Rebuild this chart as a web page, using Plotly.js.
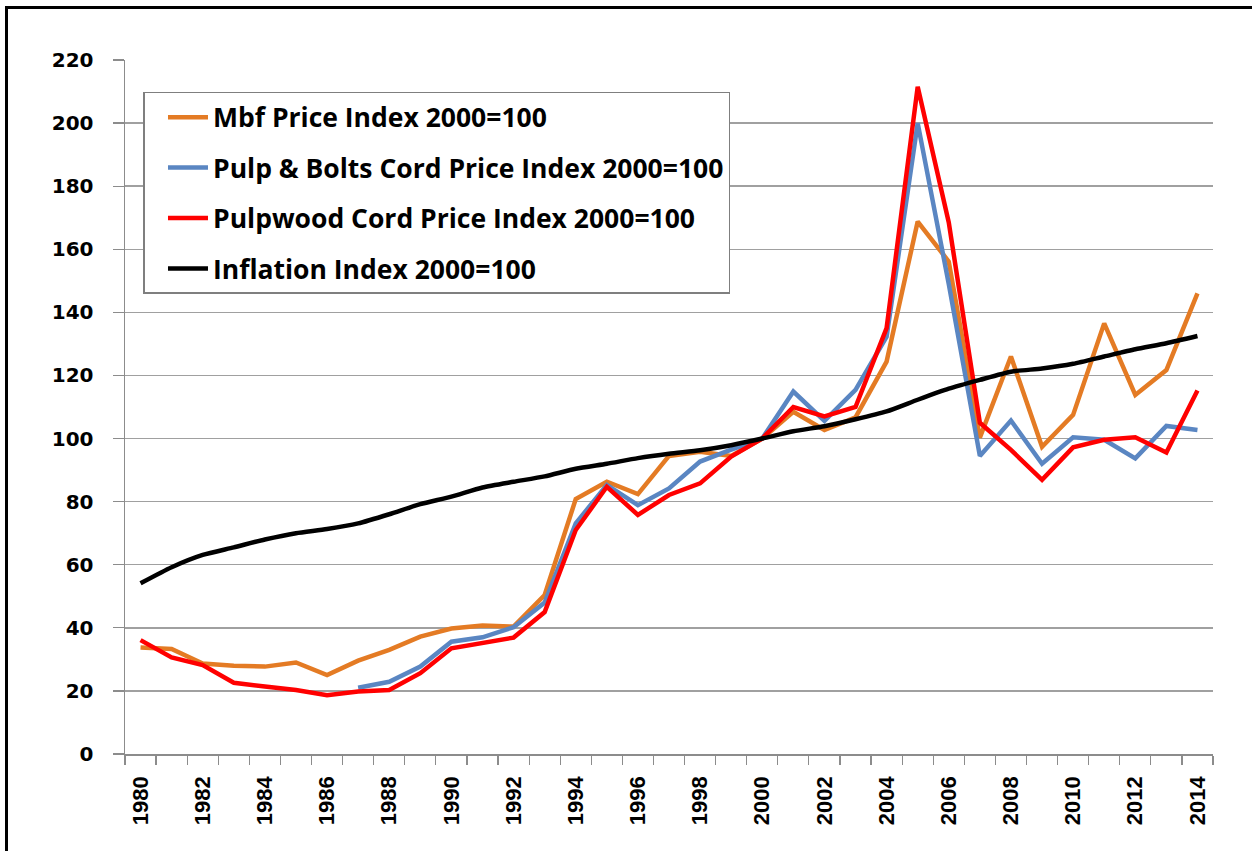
<!DOCTYPE html>
<html>
<head>
<meta charset="utf-8">
<script src="https://cdn.plot.ly/plotly-3.0.1.min.js"></script>
<style>
  html, body { margin: 0; padding: 0; background: #fff; }
  #wrap { position: relative; width: 1252px; height: 851px; overflow: hidden; }
  #chart { position: absolute; left: 0; top: 0; width: 1252px; height: 851px; }
  #frame { position: absolute; left: 5px; top: 6px; width: 1300px; height: 900px;
           border-top: 3px solid #000; border-left: 3px solid #000; pointer-events: none; }
</style>
</head>
<body>
<div id="wrap">
  <div id="chart"></div>
  <div id="frame"></div>
</div>
<script>
const years = [1980,1981,1982,1983,1984,1985,1986,1987,1988,1989,1990,1991,1992,1993,1994,1995,1996,1997,1998,1999,2000,2001,2002,2003,2004,2005,2006,2007,2008,2009,2010,2011,2012,2013,2014];

const mbfIndex = [33.8,33.3,28.7,28.0,27.7,29.0,25.0,29.6,33.0,37.2,39.8,40.7,40.4,50.4,80.8,86.3,82.4,94.5,95.8,94.5,100,108.5,102.7,106.7,124.4,168.8,156.1,100.3,126.0,97.4,107.5,136.5,113.8,121.7,146.0];

const pulpBoltsIndex = [null,null,null,null,null,null,null,21.0,22.9,27.7,35.6,37.0,40.2,48.0,73.1,85.3,78.9,84.2,92.7,96.5,100,114.9,105.6,115.4,132.3,200.0,149.0,94.5,105.7,92.0,100.4,99.6,93.7,104.0,102.7];

const pulpwoodIndex = [36.1,30.6,28.2,22.6,21.4,20.3,18.6,19.8,20.3,25.6,33.5,35.1,36.9,45.0,71.0,84.7,75.8,82.1,85.8,94.3,100,110.0,107.0,110.0,135.0,211.5,168.5,105.0,96.4,86.9,97.2,99.6,100.4,95.6,115.2];

const inflationIndex = [54.1,59.2,63.1,65.5,68.0,70.0,71.3,73.1,76.0,79.2,81.6,84.5,86.3,88.0,90.4,92.0,93.8,95.2,96.3,97.9,100,102.3,103.9,106.1,108.6,112.3,115.8,118.6,121.2,122.2,123.7,126.0,128.3,130.2,132.5];

const seriesNames = [
  "Mbf Price Index 2000=100",
  "Pulp & Bolts Cord Price Index 2000=100",
  "Pulpwood Cord Price Index 2000=100",
  "Inflation Index 2000=100"
];

const yTicks = [0,20,40,60,80,100,120,140,160,180,200,220];
const xLabelYears = [1980,1982,1984,1986,1988,1990,1992,1994,1996,1998,2000,2002,2004,2006,2008,2010,2012,2014];

const colors = ["#E47B24", "#5A86C2", "#FF0000", "#000000"];

const traces = [
  {x: years, y: mbfIndex, name: seriesNames[0], legendgroup: "a",
   mode: "lines", line: {color: colors[0], width: 4.5}},
  {x: years, y: pulpBoltsIndex, name: seriesNames[1], legendgroup: "b",
   mode: "lines", line: {color: colors[1], width: 4.5}, connectgaps: false},
  {x: years, y: pulpwoodIndex, name: seriesNames[2], legendgroup: "c",
   mode: "lines", line: {color: colors[2], width: 4.5}},
  {x: years, y: inflationIndex, name: seriesNames[3], legendgroup: "d",
   mode: "lines", line: {color: colors[3], width: 4.5, shape: "spline", smoothing: 0.6}}
];

const layout = {
  width: 1252, height: 851,
  margin: {l: 124.5, r: 39.3, t: 60, b: 97},
  paper_bgcolor: "#fff", plot_bgcolor: "#fff",
  showlegend: true,
  legend: {
    x: 0.017, y: 0.954, xanchor: "left", yanchor: "top",
    bgcolor: "#fff", bordercolor: "#7f7f7f", borderwidth: 1.5,
    font: {family: "'Open Sans', Lato, sans-serif", size: 26.5, color: "#000", weight: "bold"},
    traceorder: "grouped", tracegroupgap: 13, itemwidth: 40,
    indentation: 18
  },
  xaxis: {
    range: [1979.5, 2014.5],
    tickmode: "array", tickvals: xLabelYears, ticktext: xLabelYears.map(String),
    ticks: "", tickangle: -90,
    tickfont: {family: "'Liberation Sans', Arial, sans-serif", size: 22, color: "#000", weight: "bold"},
    ticklabelstandoff: 12,
    showgrid: false, zeroline: false,
    showline: true, linecolor: "#8c8c8c", linewidth: 1.5,
    minor: {tick0: 1979.5, dtick: 1, ticks: "outside", ticklen: 9, tickcolor: "#8c8c8c", tickwidth: 1.2, showgrid: false}
  },
  yaxis: {
    range: [0, 220],
    tickmode: "array", tickvals: yTicks, ticktext: yTicks.map(String),
    ticks: "outside", ticklen: 11, tickcolor: "#8c8c8c", tickwidth: 1.2,
    ticklabelstandoff: 15,
    tickfont: {family: "'DejaVu Sans', Verdana, sans-serif", size: 20, color: "#000", weight: "bold"},
    showgrid: true, gridcolor: "#a0a0a0", gridwidth: 1.5,
    zeroline: false,
    showline: true, linecolor: "#8c8c8c", linewidth: 1.5
  }
};

Plotly.newPlot("chart", traces, layout, {displayModeBar: false, staticPlot: true});
</script>
</body>
</html>
